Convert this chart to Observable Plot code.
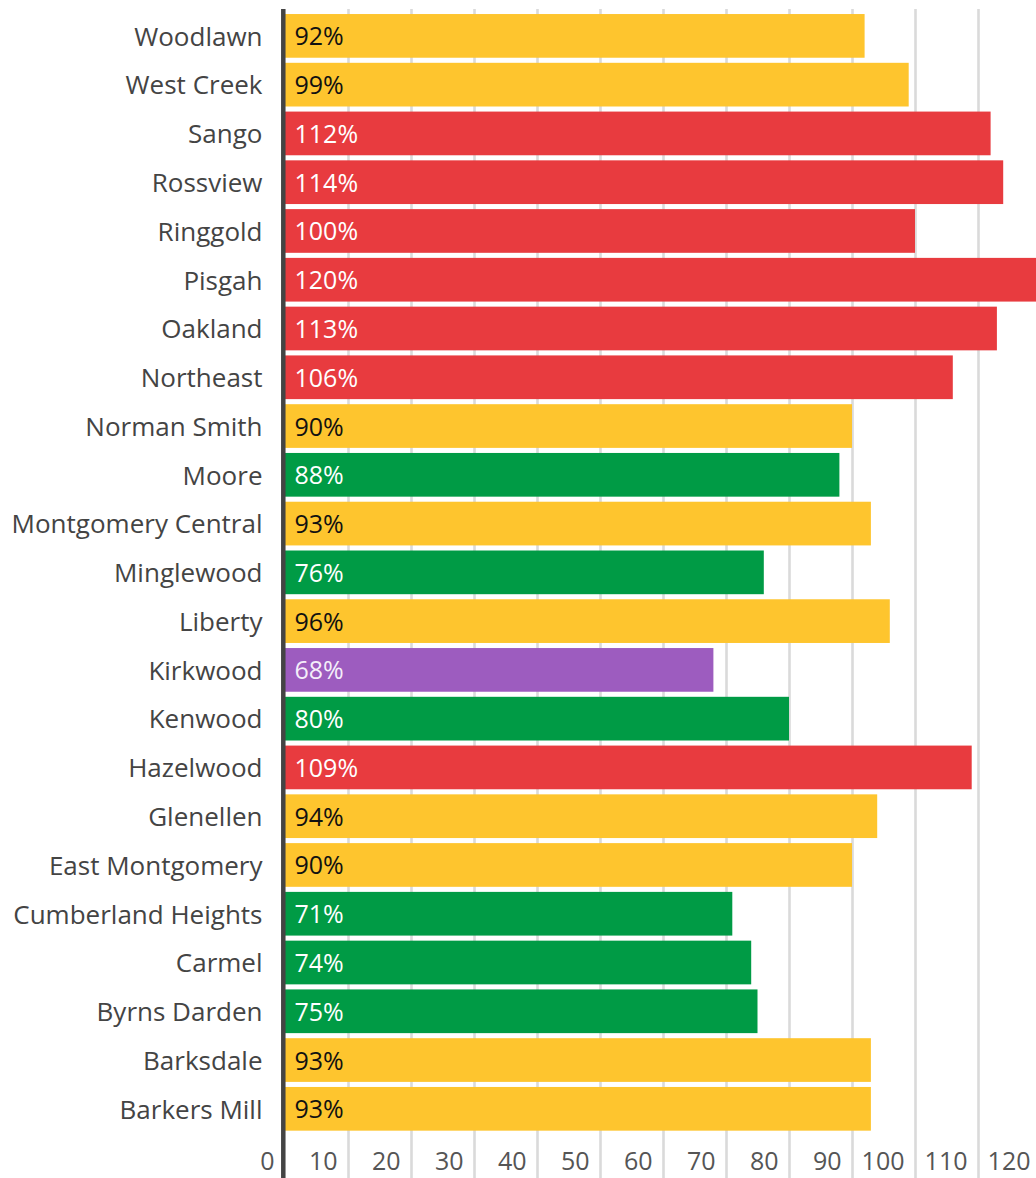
<!DOCTYPE html>
<html><head><meta charset="utf-8">
<script src="https://cdn.jsdelivr.net/npm/d3@7"></script>
<script src="https://cdn.jsdelivr.net/npm/@observablehq/plot@0.6"></script>
<style>
html,body{margin:0;padding:0;background:#fff;overflow:hidden;}
#chart svg{overflow:hidden;display:block;}
</style></head><body><div id="chart"></div>
<script>
const schools = ["Woodlawn","West Creek","Sango","Rossview","Ringgold","Pisgah","Oakland","Northeast","Norman Smith","Moore","Montgomery Central","Minglewood","Liberty","Kirkwood","Kenwood","Hazelwood","Glenellen","East Montgomery","Cumberland Heights","Carmel","Byrns Darden","Barksdale","Barkers Mill"];
const values = [92,99,112,114,100,120,113,106,90,88,93,76,96,68,80,109,94,90,71,74,75,93,93];
const status = ["near","near","over","over","over","over","over","over","near","under","near","under","near","low","under","over","near","near","under","under","under","near","near"];
const statusNames = ["over","near","under","low"];
const statusColors = ["#e83b3f","#fec52e","#009b45","#9d5cbf"];
const labelColors = ["#ffffff","#111111","#ffffff","#f4eefa"];
const xTicks = [0,10,20,30,40,50,60,70,80,90,100,110,120];

const data = schools.map((s,i)=>({school:s, value:values[i], status:status[i]}));
const labelColor = s => labelColors[statusNames.indexOf(s)];

const chart = Plot.plot({
  width:1036, height:1178,
  marginTop:9, marginBottom:0, marginLeft:285, marginRight:-5,
  style:{fontFamily:"'Open Sans', sans-serif", fontSize:"25px", background:"#fff", overflow:"hidden"},
  x:{domain:[0,120], axis:null},
  y:{domain:schools, round:false, paddingInner:0.104, paddingOuter:0.052, insetTop:2.5, insetBottom:44.8, axis:null},
  color:{domain:statusNames, range:statusColors},
  marks:[
    Plot.ruleX(xTicks.slice(1), {stroke:"#dadada", strokeWidth:2.6}),
    Plot.barX(data, {x:"value", y:"school", fill:"status"}),
    Plot.ruleX([0], {stroke:"#444", strokeWidth:4.5, dx:-2.2}),
    Plot.text(data, {x:0, y:"school", text:d=>d.value+"%", textAnchor:"start", dx:9, dy:1, fill:d=>labelColor(d.status), fontSize:25}),
    Plot.text(schools, {x:0, y:d=>d, text:d=>d, textAnchor:"end", dx:-23, dy:1, fill:"#444", fontSize:26}),
    Plot.text(xTicks, {x:d=>d, text:d=>String(d), frameAnchor:"bottom", textAnchor:"end", dx:-11, dy:-9, fill:"#555", fontSize:25})
  ]
});
document.getElementById("chart").appendChild(chart);
</script></body></html>
